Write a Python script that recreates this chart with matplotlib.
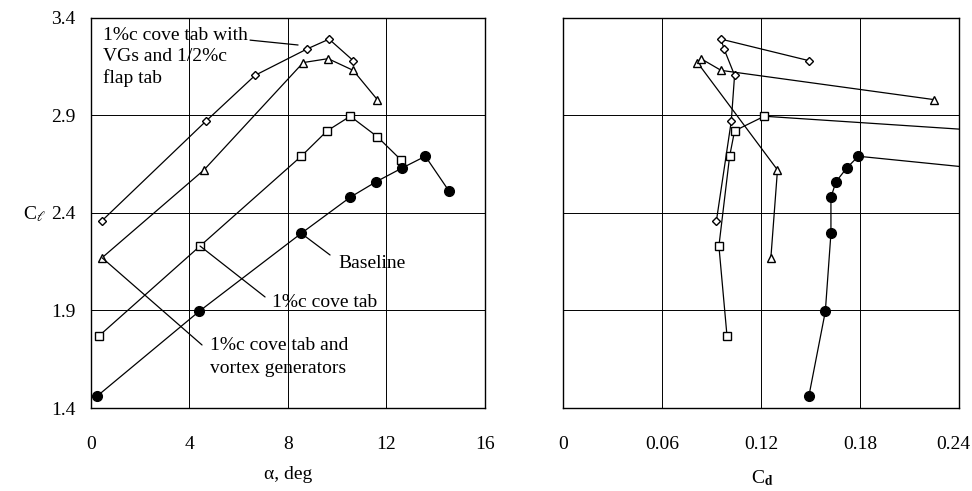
import matplotlib
matplotlib.use("Agg")
import matplotlib.pyplot as plt
from matplotlib.transforms import ScaledTranslation

plt.rcParams['font.family'] = ['Liberation Serif', 'DejaVu Serif']
plt.rcParams['mathtext.fontset'] = 'stix'

# 1%c cove tab with VGs and 1/2%c flap tab (diamonds)
alpha_flap = [0.45, 4.67, 6.67, 8.78, 9.67, 10.65]
cl_flap = [2.36, 2.87, 3.105, 3.24, 3.29, 3.18]
cd_flap = [0.093, 0.102, 0.104, 0.0976, 0.0958, 0.149]

# 1%c cove tab and vortex generators (triangles)
alpha_vg = [0.45, 4.59, 8.62, 9.63, 10.65, 11.63]
cl_vg = [2.17, 2.62, 3.17, 3.19, 3.13, 2.98]
cd_vg = [0.126, 0.130, 0.0815, 0.0836, 0.0958, 0.225]

# 1%c cove tab (squares)
alpha_cove = [0.33, 4.43, 8.54, 9.59, 10.53, 11.63, 12.6]
cl_cove = [1.77, 2.23, 2.69, 2.82, 2.895, 2.79, 2.67]
cd_cove = [0.0994, 0.0945, 0.101, 0.104, 0.122, 0.31, 0.36]

# Baseline (filled circles)
alpha_base = [0.24, 4.39, 8.54, 10.53, 11.59, 12.64, 13.58, 14.55]
cl_base = [1.46, 1.895, 2.295, 2.48, 2.56, 2.63, 2.69, 2.51]
cd_base = [0.149, 0.159, 0.1624, 0.1624, 0.1655, 0.172, 0.179, 0.39]

series = [
    (alpha_flap, cl_flap, cd_flap, 'D', 'white', 4.5),
    (alpha_vg, cl_vg, cd_vg, '^', 'white', 5.5),
    (alpha_cove, cl_cove, cd_cove, 's', 'white', 6),
    (alpha_base, cl_base, cd_base, 'o', 'black', 7),
]

fs = 14

fig = plt.figure(figsize=(9.72, 4.91), dpi=100)
ax1 = fig.add_axes([0.0936, 0.169, 0.4053, 0.795])
ax2 = fig.add_axes([0.5792, 0.169, 0.4074, 0.795])

for a, cl, cd, m, fc, ms in series:
    ax1.plot(a, cl, color='black', lw=0.9, marker=m, ms=ms, mfc=fc,
             mec='black', mew=1.0, zorder=3)
    ax2.plot(cd, cl, color='black', lw=0.9, marker=m, ms=ms, mfc=fc,
             mec='black', mew=1.0, zorder=3)

for ax in (ax1, ax2):
    ax.set_ylim(1.4, 3.4)
    ax.set_yticks([1.4, 1.9, 2.4, 2.9, 3.4])
    ax.grid(True, color='black', lw=0.7)
    ax.tick_params(length=0, labelsize=fs)
    ax.tick_params(axis='x', pad=20)
    ax.tick_params(axis='y', pad=11)
    for s in ax.spines.values():
        s.set_linewidth(1.0)

ax1.set_xlim(0, 16)
ax1.set_xticks([0, 4, 8, 12, 16])
ax1.set_yticklabels(['1.4', '1.9', '2.4', '2.9', '3.4'])

ax2.set_xlim(0, 0.24)
ax2.set_xticks([0, 0.06, 0.12, 0.18, 0.24])
ax2.set_xticklabels(['0', '0.06', '0.12', '0.18', '0.24'])
ax2.set_yticklabels([])
# last label sits against the figure edge
last = ax2.get_xticklabels()[-1]
last.set_transform(last.get_transform() + ScaledTranslation(-4 / 72, 0, fig.dpi_scale_trans))

# labels with leader lines
lw = dict(arrowstyle='-', color='black', lw=0.9, shrinkA=0, shrinkB=0)
ax1.text(0.49, 3.35, '1%c cove tab with\nVGs and 1/2%c\nflap tab', fontsize=fs,
         ha='left', va='top', linespacing=1.3)
ax1.annotate('', xy=(8.41, 3.26), xytext=(6.46, 3.285), arrowprops=lw)

ax1.text(11.41, 2.143, 'Baseline', fontsize=fs, ha='center', va='center')
ax1.annotate('', xy=(8.54, 2.295), xytext=(9.71, 2.184), arrowprops=lw)

ax1.text(9.5, 1.943, '1%c cove tab', fontsize=fs, ha='center', va='center')
ax1.annotate('', xy=(4.43, 2.23), xytext=(7.07, 1.969), arrowprops=lw)

ax1.text(4.83, 1.765, '1%c cove tab and\nvortex generators', fontsize=fs,
         ha='left', va='top', linespacing=1.45)
ax1.annotate('', xy=(0.45, 2.17), xytext=(4.51, 1.723), arrowprops=lw)

fig.text(0.036, 0.564, r'C$_\ell$', fontsize=fs, ha='center', va='center')
fig.text(0.296, 0.033, 'α, deg', fontsize=fs, ha='center', va='center')
fig.text(0.784, 0.026, r'C$_{\mathbf{d}}$', fontsize=fs, ha='center', va='center')

fig.savefig('out.png', dpi=100)
